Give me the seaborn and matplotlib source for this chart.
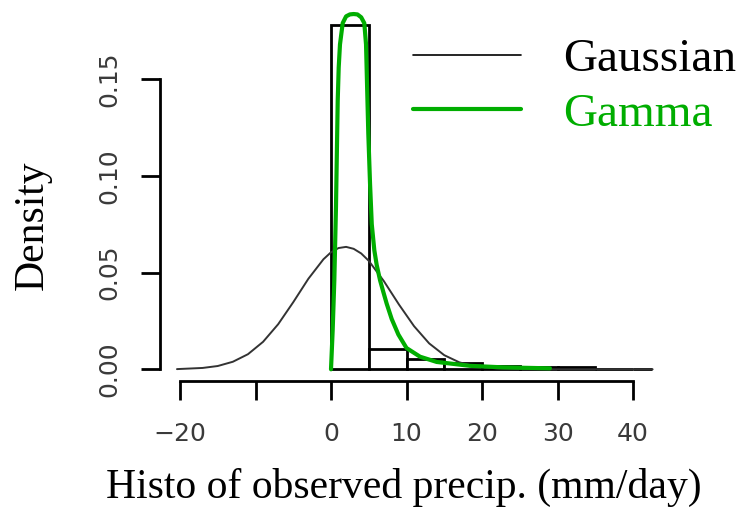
import numpy as np
import pandas as pd
import matplotlib
matplotlib.use("Agg")
import matplotlib.pyplot as plt
import seaborn as sns
from matplotlib.lines import Line2D

# ---- data ----
bin_edges = [0, 5, 10, 15, 20, 25, 30, 35, 40, 42.5]
bin_density = [0.178, 0.0103, 0.0055, 0.0033, 0.0015, 0.0010, 0.0012, 0.0, 0.0]

gauss_x = [-20.4, -17, -15, -13, -11, -9, -7, -5, -3, -1, 0, 1, 2, 3, 4, 5,
           7, 9, 11, 13, 15, 17, 19, 22, 25, 30, 42.6]
gauss_y = [0.0001, 0.0007, 0.0017, 0.0039, 0.0078, 0.0142, 0.0233, 0.0347,
           0.0468, 0.0569, 0.0605, 0.0627, 0.0633, 0.0623, 0.0599, 0.0561,
           0.0456, 0.0335, 0.0223, 0.0134, 0.0073, 0.0036, 0.0016, 0.0004,
           0.0001, 0.0, 0.0]

gamma_x = [0, 0.22, 0.44, 0.66, 0.89, 1.02, 1.19, 1.55, 2.0, 2.5, 3.0, 3.5,
           4.0, 4.41, 4.64, 4.77, 4.94, 5.17, 5.4, 5.74, 6.05, 6.5, 6.93,
           7.37, 8.04, 8.92, 10.0, 11.8, 14.0, 18.4, 22.8, 29.0]
gamma_y = [0.0, 0.020, 0.046, 0.084, 0.139, 0.156, 0.168, 0.179, 0.1825,
           0.1835, 0.1837, 0.1835, 0.182, 0.179, 0.168, 0.148, 0.122, 0.096,
           0.075, 0.0615, 0.054, 0.046, 0.040, 0.034, 0.026, 0.018, 0.011,
           0.0065, 0.0038, 0.0018, 0.001, 0.0005]

x_ticks = [-20, -10, 0, 10, 20, 30, 40]
x_tick_labels = ["\u221220", "", "0", "10", "20", "30", "40"]
y_ticks = [0.0, 0.05, 0.10, 0.15]
y_tick_labels = ["0.00", "0.05", "0.10", "0.15"]

legend_labels = ["Gaussian", "Gamma"]
gauss_color = "#333333"
gamma_color = "#00AD00"

sns.set_style("ticks")
plt.rcParams["font.family"] = ["DejaVu Sans"]

fig = plt.figure(figsize=(7.43, 5.09), dpi=100)
ax = fig.add_axes([160 / 743, 128 / 509, 500 / 743, 376 / 509])

centers = [(a + b) / 2 for a, b in zip(bin_edges[:-1], bin_edges[1:])]
hist_df = pd.DataFrame({"x": centers, "w": bin_density})
sns.histplot(data=hist_df, x="x", weights="w", bins=bin_edges, stat="count",
             color="white", edgecolor="black", linewidth=2.0, alpha=1,
             ax=ax, zorder=1)

sns.lineplot(x=gauss_x, y=gauss_y, color=gauss_color, linewidth=1.4, ax=ax,
             zorder=3)
sns.lineplot(x=gamma_x, y=gamma_y, color=gamma_color, linewidth=3.0, ax=ax,
             zorder=4)

ax.set_xlim((160 - 331) / 7.55, (660 - 331) / 7.55)
ax.set_ylim(-(381 - 369.3) / 1934, (369.3 - 5) / 1934)

for s in ["top", "right"]:
    ax.spines[s].set_visible(False)
ax.spines["left"].set_bounds(0, 0.15)
ax.spines["bottom"].set_bounds(-20, 40)
for s in ["left", "bottom"]:
    ax.spines[s].set_linewidth(2.0)
    ax.spines[s].set_color("black")

ax.set_xticks(x_ticks)
ax.set_xticklabels(x_tick_labels)
ax.set_yticks(y_ticks)
ax.set_yticklabels(y_tick_labels, rotation=90, va="center")

ax.tick_params(axis="both", direction="out", length=13.7, width=2.0,
               color="black", labelsize=18, labelcolor="#3a3a3a",
               bottom=True, left=True)
ax.tick_params(axis="x", pad=16)
ax.tick_params(axis="y", pad=14)

ax.set_xlabel("Histo of observed precip. (mm/day)", fontsize=30,
              family=["Liberation Serif"], color="black")
ax.set_ylabel("Density", fontsize=30, family=["Liberation Serif"],
              color="black")
ax.xaxis.set_label_coords((404 - 160) / 500, (381 - 468) / 376)
ax.yaxis.set_label_coords((52 - 160) / 500, (381 - 225) / 376)

handles = [Line2D([], [], color="black", linewidth=1.2),
           Line2D([], [], color=gamma_color, linewidth=3.0)]
leg = ax.legend(handles, legend_labels, loc="upper left",
                bbox_to_anchor=((413 - 160) / 500, (381 - 38) / 376),
                frameon=False, prop={"family": "Liberation Serif", "size": 34},
                handlelength=2.28, handletextpad=0.9, labelspacing=0.25,
                borderpad=0, borderaxespad=0)
leg.get_texts()[0].set_color("black")
leg.get_texts()[1].set_color(gamma_color)

fig.savefig("out.png", dpi=100)
